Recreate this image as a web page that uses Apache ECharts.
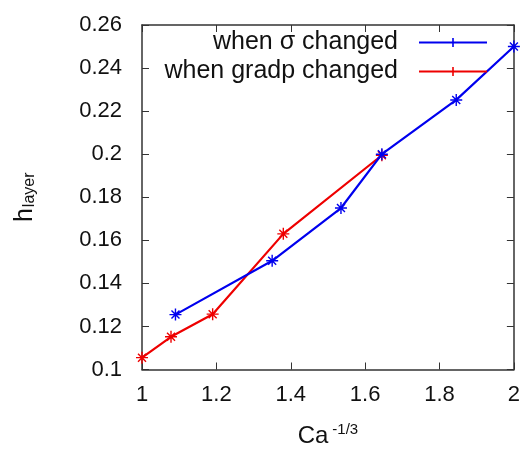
<!DOCTYPE html>
<html>
<head>
<meta charset="utf-8">
<script src="https://cdn.jsdelivr.net/npm/echarts@6/dist/echarts.min.js"></script>
<style>
html,body{margin:0;padding:0;background:#fff;overflow:hidden;}
#c{width:523px;height:453px;}
</style>
</head>
<body>
<div id="c"></div>
<script>
// Data
var sigmaX = [1.09, 1.35, 1.535, 1.645, 1.845, 2.0];
var sigmaY = [0.1255, 0.1505, 0.175, 0.2, 0.2252, 0.25];
var gradpX = [1.0, 1.078, 1.19, 1.38, 1.645];
var gradpY = [0.1055, 0.1152, 0.1257, 0.163, 0.1995];
var seriesNames = ['when \u03c3 changed', 'when gradp changed'];
var xTicks = {min: 1, max: 2, interval: 0.2};
var yTicks = {min: 0.1, max: 0.26, interval: 0.02};

function pairs(xs, ys){ return xs.map(function(x,i){ return [x, ys[i]]; }); }

var FONT = 'Liberation Sans, Arial, Helvetica, sans-serif';
var star = 'path://M5.3,0 L6.7,0 L6.7,12 L5.3,12 Z M0,5.3 L12,5.3 L12,6.7 L0,6.7 Z M1.5,2.5 L2.5,1.5 L10.5,9.5 L9.5,10.5 Z M9.5,1.5 L10.5,2.5 L2.5,10.5 L1.5,9.5 Z';
var legendIcon = 'path://M0,3.6 L68,3.6 L68,5.4 L0,5.4 Z M33.2,0 L34.8,0 L34.8,9 L33.2,9 Z';
var axisColor = '#333';

var chart = echarts.init(document.getElementById('c'), null, {renderer:'canvas'});
function axisCommon(extra){
  var o = {
    type: 'value',
    axisLine: {show: true, onZero: false, lineStyle: {color: axisColor, width: 1.5}},
    axisTick: {show: true, inside: true, length: 7, lineStyle: {color: axisColor, width: 1}},
    splitLine: {show: false}
  };
  for (var k in extra) o[k] = extra[k];
  return o;
}
var option = {
  backgroundColor: '#fff',
  animation: false,
  grid: {left: 142, right: 7, top: 25, bottom: 79},
  legend: [
    {
      data: [{name: seriesNames[0], icon: legendIcon}],
      align: 'right', right: 36, top: 30, padding: 0,
      itemWidth: 68, itemHeight: 9,
      textStyle: {fontFamily: FONT, fontSize: 25, color: '#111', padding: [0, 16, 0, 0]}
    },
    {
      data: [{name: seriesNames[1], icon: legendIcon}],
      align: 'right', right: 36, top: 59, padding: 0,
      itemWidth: 68, itemHeight: 9,
      textStyle: {fontFamily: FONT, fontSize: 25, color: '#111', padding: [0, 16, 0, 0]}
    }
  ],
  xAxis: [
    axisCommon({
      min: xTicks.min, max: xTicks.max, interval: xTicks.interval,
      axisLabel: {fontFamily: FONT, fontSize: 22, color: '#111', margin: 14},
      name: '{b|Ca}{s|-1/3}', nameLocation: 'middle', nameGap: 53,
      nameTextStyle: {
        rich: {
          b: {fontFamily: FONT, fontSize: 24, color: '#111'},
          s: {fontFamily: FONT, fontSize: 15, color: '#111', padding: [0, 0, 12, 4]}
        }
      }
    }),
    axisCommon({
      position: 'top', min: xTicks.min, max: xTicks.max, interval: xTicks.interval,
      axisLabel: {show: false}
    })
  ],
  yAxis: [
    axisCommon({
      min: yTicks.min, max: yTicks.max, interval: yTicks.interval,
      axisLabel: {fontFamily: FONT, fontSize: 22, color: '#111', margin: 20},
      name: '{b|h}{s|layer}', nameLocation: 'middle', nameGap: 104, nameRotate: 90,
      nameTextStyle: {
        rich: {
          b: {fontFamily: FONT, fontSize: 25, color: '#111'},
          s: {fontFamily: FONT, fontSize: 16, color: '#111', padding: [10, 0, 0, 1]}
        }
      }
    }),
    axisCommon({
      position: 'right', min: yTicks.min, max: yTicks.max, interval: yTicks.interval,
      axisLabel: {show: false}
    })
  ],
  series: [
    {
      name: seriesNames[0], type: 'line', data: pairs(sigmaX, sigmaY),
      color: '#0000ee',
      lineStyle: {width: 2.2, color: '#0000ee'},
      symbol: star, symbolSize: 12, showAllSymbol: true,
      itemStyle: {color: '#0000ee'}, z: 3
    },
    {
      name: seriesNames[1], type: 'line', data: pairs(gradpX, gradpY),
      color: '#ee0000',
      lineStyle: {width: 2.2, color: '#ee0000'},
      symbol: star, symbolSize: 12, showAllSymbol: true,
      itemStyle: {color: '#ee0000'}, z: 2
    }
  ]
};
chart.setOption(option);
</script>
</body>
</html>
